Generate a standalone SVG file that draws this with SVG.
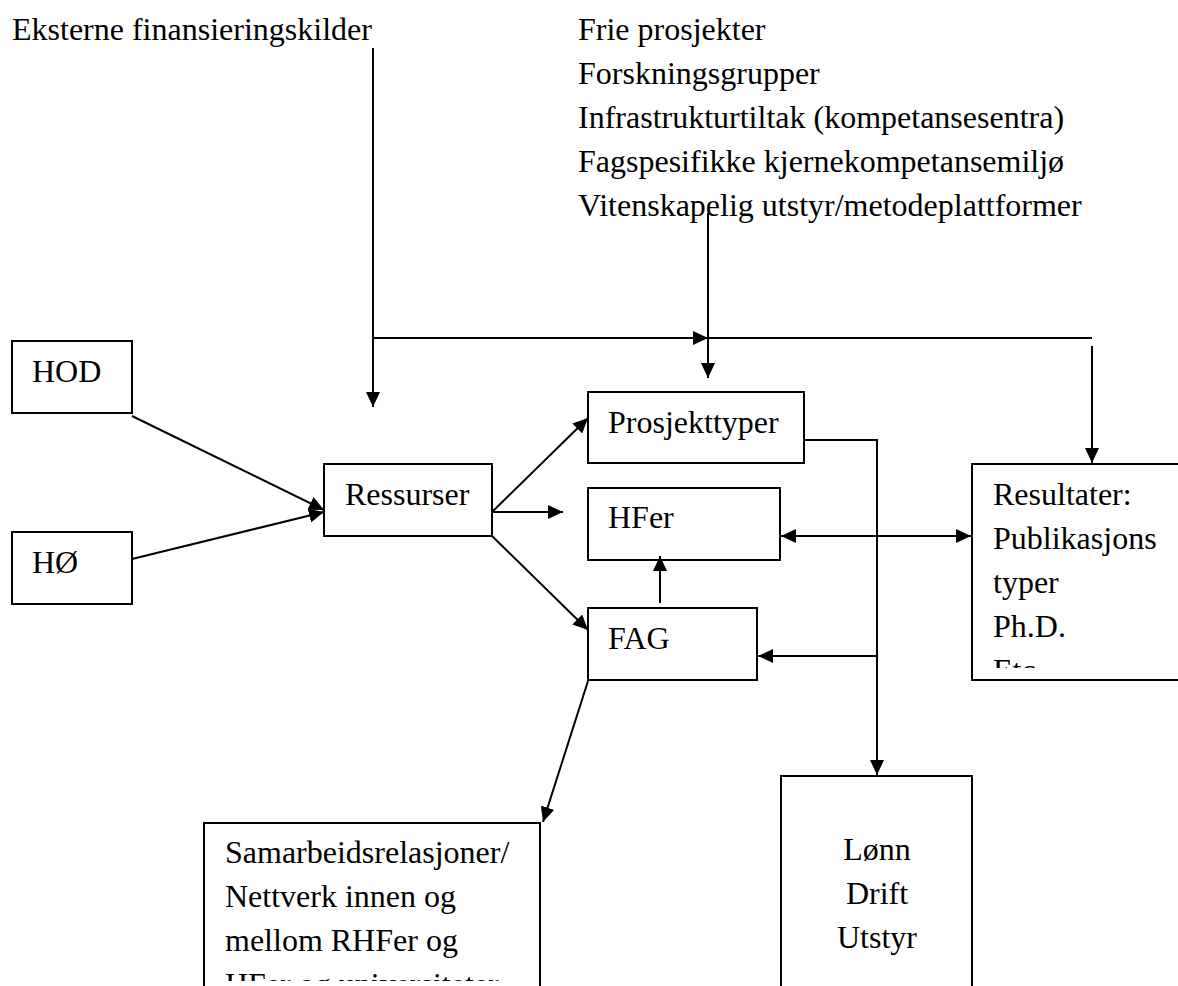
<svg xmlns="http://www.w3.org/2000/svg" width="1178" height="986" viewBox="0 0 1178 986">
<style>
text{font-family:"Liberation Serif","Times New Roman",serif;font-size:32px;fill:#000}
.box{fill:#fff;stroke:#000;stroke-width:2}
.ln{fill:none;stroke:#000;stroke-width:2}
.arr{marker-end:url(#ah)}
.mid{text-anchor:middle}
</style>
<defs>
<marker id="ah" markerUnits="userSpaceOnUse" markerWidth="16" markerHeight="14" refX="15" refY="7" orient="auto-start-reverse">
<path d="M0,0 L15,7 L0,14 Z" fill="#000"/>
</marker>
<clipPath id="clipRes"><rect x="972" y="464" width="210" height="204"/></clipPath>
<clipPath id="clipSam"><rect x="204" y="823" width="340" height="158"/></clipPath>
</defs>
<rect width="1178" height="986" fill="#fff"/>

<g id="eksterne"><text x="12" y="40">Eksterne finansieringskilder</text></g>
<g id="prosjektliste">
<text x="578" y="40">Frie prosjekter</text>
<text x="578" y="84">Forskningsgrupper</text>
<text x="578" y="128">Infrastrukturtiltak (kompetansesentra)</text>
<text x="578" y="172">Fagspesifikke kjernekompetansemiljø</text>
<text x="578" y="216">Vitenskapelig utstyr/metodeplattformer</text>
</g>

<g id="hod"><rect class="box" x="12" y="341" width="120" height="72"/><text x="32" y="382">HOD</text></g>
<g id="ho"><rect class="box" x="12" y="532" width="120" height="72"/><text x="32" y="573">HØ</text></g>
<g id="ressurser"><rect class="box" x="324" y="464" width="168" height="72"/><text x="345" y="505">Ressurser</text></g>
<g id="prosjekttyper"><rect class="box" x="588" y="392" width="216" height="71"/><text x="608" y="433">Prosjekttyper</text></g>
<g id="hfer"><rect class="box" x="588" y="488" width="192" height="72"/><text x="608" y="528">HFer</text></g>
<g id="fag"><rect class="box" x="588" y="608" width="169" height="72"/><text x="608" y="649">FAG</text></g>
<g id="resultater"><rect class="box" x="972" y="464" width="212" height="216"/>
<g clip-path="url(#clipRes)">
<text x="993" y="505">Resultater:</text>
<text x="993" y="549">Publikasjons</text>
<text x="993" y="593">typer</text>
<text x="993" y="637">Ph.D.</text>
<text x="993" y="681">Etc</text>
</g></g>
<g id="lonn"><rect class="box" x="781" y="776" width="191" height="230"/>
<text class="mid" x="877" y="860">Lønn</text>
<text class="mid" x="877" y="904">Drift</text>
<text class="mid" x="877" y="948">Utstyr</text>
</g>
<g id="samarbeid"><rect class="box" x="204" y="823" width="336" height="190"/>
<g clip-path="url(#clipSam)">
<text x="225" y="863">Samarbeidsrelasjoner/</text>
<text x="225" y="907">Nettverk innen og</text>
<text x="225" y="951">mellom RHFer og</text>
<text x="225" y="995">HFer og universiteter</text>
</g></g>

<g id="connectors">
<path class="ln arr" d="M373,48 V407"/>
<path class="ln arr" d="M373,338 H708"/>
<path class="ln" d="M708,338 H1092"/>
<path class="ln arr" d="M708,213 V378"/>
<path class="ln arr" d="M1092,346 V463"/>
<path class="ln arr" d="M132,416 L324,510"/>
<path class="ln arr" d="M132,559 L324,512"/>
<path class="ln arr" d="M492,512 L588,418"/>
<path class="ln arr" d="M492,512 H563"/>
<path class="ln arr" d="M492,536 L588,630"/>
<path class="ln arr" d="M660,603 V556"/>
<path class="ln arr" d="M804,440 H877 V775"/>
<path class="ln arr" d="M877,656 H758"/>
<path class="ln" d="M781,536 H971" marker-start="url(#ah)" marker-end="url(#ah)"/>
<path class="ln arr" d="M588,681 L543,822"/>
</g>
</svg>
